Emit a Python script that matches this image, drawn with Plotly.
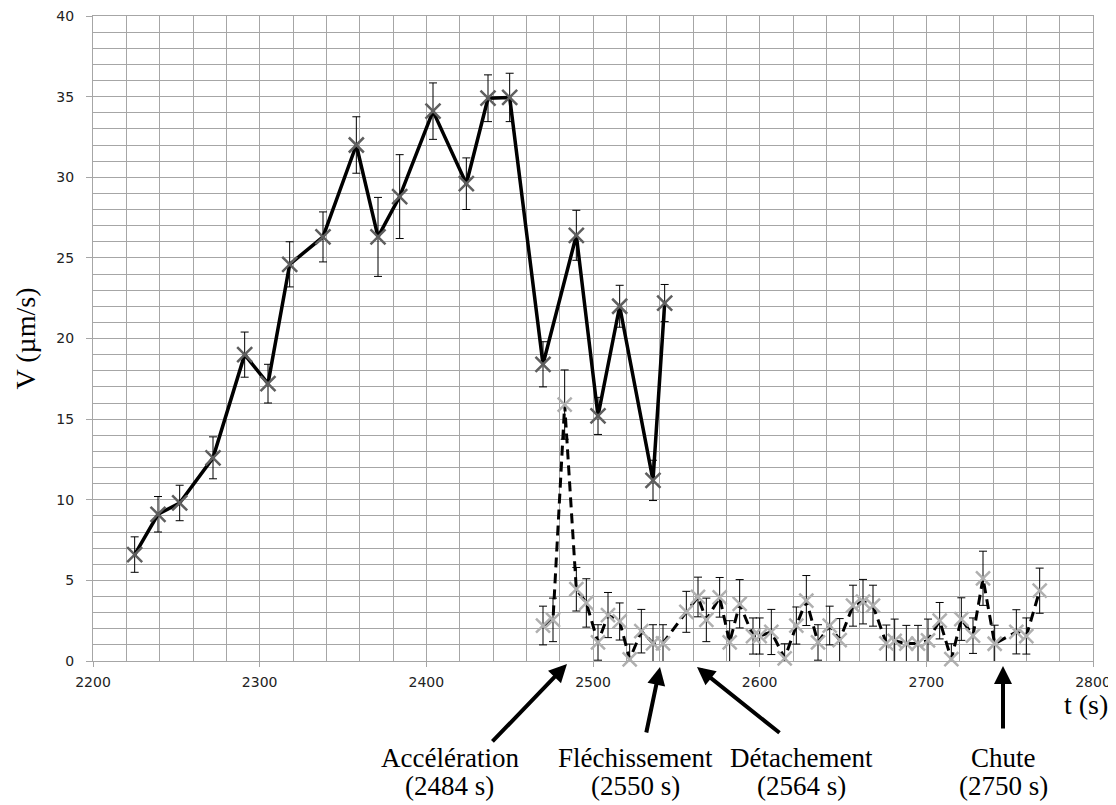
import plotly.graph_objects as go

# Solid series (first measurement)
t_solid = [2225, 2239, 2252, 2272, 2291, 2305, 2318, 2338, 2358, 2371, 2384,
           2404, 2424, 2437, 2450, 2470, 2490, 2503, 2516, 2536, 2543]
v_solid = [6.6, 9.1, 9.8, 12.6, 19.0, 17.2, 24.6, 26.3, 32.0, 26.3, 28.8,
           34.1, 29.6, 34.9, 34.95, 18.4, 26.4, 15.2, 22.0, 11.2, 22.2]
e_solid = [1.1, 1.1, 1.1, 1.3, 1.4, 1.2, 1.4, 1.55, 1.75, 2.45, 2.6,
           1.75, 1.6, 1.45, 1.5, 1.4, 1.55, 1.15, 1.3, 1.25, 1.15]

# Dashed series (second measurement)
t_dash = [2470, 2476, 2483, 2490, 2496, 2503, 2509, 2516, 2522, 2529, 2536, 2542,
          2556, 2563, 2568, 2576, 2582, 2588, 2596, 2600, 2607, 2615, 2622, 2628,
          2635, 2642, 2648, 2656, 2662, 2668, 2676, 2681, 2688, 2695, 2701, 2708,
          2715, 2721, 2728, 2734, 2741, 2754, 2760, 2768]
v_dash = [2.2, 2.55, 15.9, 4.45, 3.6, 1.15, 2.85, 2.45, 0.1, 1.85, 1.1, 1.1,
          3.05, 3.97, 2.55, 3.95, 1.15, 3.55, 1.55, 1.55, 1.8, 0.17, 2.2, 3.75,
          1.15, 2.2, 1.3, 3.43, 3.68, 3.43, 1.1, 1.25, 1.08, 1.08, 1.28, 2.5,
          0.12, 2.6, 1.57, 5.13, 1.07, 1.81, 1.55, 4.36]
e_dash = [1.2, 1.35, 2.15, 1.35, 1.5, 1.1, 1.4, 1.15, 0.95, 1.35, 1.15, 1.15,
          1.27, 1.23, 1.35, 1.23, 1.35, 1.5, 1.12, 1.12, 1.4, 0.9, 1.15, 1.55,
          1.1, 1.2, 1.33, 1.27, 1.38, 1.27, 1.13, 1.35, 1.13, 1.13, 1.32, 1.13,
          0.95, 1.32, 1.1, 1.68, 1.15, 1.37, 1.12, 1.4]

# Event annotations
event_names = ["Accélération", "Fléchissement", "Détachement", "Chute"]
event_times = [2484, 2550, 2564, 2750]

fig = go.Figure()

fig.add_trace(go.Scatter(
    x=t_dash, y=v_dash, mode="lines+markers",
    line=dict(color="black", width=3, dash="10px,6px"),
    marker=dict(symbol="x-thin-open", size=14, color="#b0b0b0",
                line=dict(color="#b0b0b0", width=2.5)),
    error_y=dict(type="data", array=e_dash, color="black", thickness=1, width=4),
    cliponaxis=False, showlegend=False))

fig.add_trace(go.Scatter(
    x=t_solid, y=v_solid, mode="lines+markers",
    line=dict(color="black", width=3.5),
    marker=dict(symbol="x-thin-open", size=15, color="#5f5f5f",
                line=dict(color="#5f5f5f", width=2.5)),
    error_y=dict(type="data", array=e_solid, color="black", thickness=1, width=4),
    cliponaxis=False, showlegend=False))

grid = "#a6a6a6"
fig.update_xaxes(range=[2200, 2800], dtick=100, tick0=2200,
                 showgrid=True, gridcolor=grid, gridwidth=1,
                 minor=dict(dtick=20, showgrid=True, gridcolor=grid, gridwidth=1),
                 showline=True, linecolor=grid, linewidth=1, mirror=True,
                 ticks="outside", ticklen=5, tickcolor=grid,
                 tickfont=dict(family="DejaVu Sans", size=14, color="#222"),
                 zeroline=False, ticklabelstandoff=3, ticklabeloverflow="allow",
                 automargin=False)
fig.update_yaxes(range=[0, 40], dtick=5, tick0=0,
                 showgrid=True, gridcolor=grid, gridwidth=1,
                 minor=dict(dtick=1, showgrid=True, gridcolor=grid, gridwidth=1),
                 showline=True, linecolor=grid, linewidth=1, mirror=True,
                 ticks="outside", ticklen=6, tickcolor=grid,
                 tickfont=dict(family="DejaVu Sans", size=14, color="#222"),
                 zeroline=False, ticklabelstandoff=9, ticklabeloverflow="allow",
                 automargin=False)

serif = dict(family="Liberation Serif", size=28, color="black")
serif_bottom = dict(family="Liberation Serif", size=27, color="black")

# Arrow geometry: head position (x in data, y in paper) and tail pixel offsets
arrow_head_x = [2484.4, 2540.2, 2562.4, 2746]
arrow_head_y = [-0.0046, -0.0093, -0.0093, -0.0077]
arrow_ax = [-76, -14, 84, 0]
arrow_ay = [79, 67, 67, 64]
text_x = [2414, 2525.5, 2625, 2746]
line1_y = -0.150
line2_y = -0.194

annotations = []
for name, t, hx, hy, ax, ay, tx in zip(event_names, event_times, arrow_head_x,
                                         arrow_head_y, arrow_ax, arrow_ay, text_x):
    annotations.append(dict(x=hx, y=hy, xref="x", yref="paper", ax=ax, ay=ay,
                            axref="pixel", ayref="pixel", showarrow=True,
                            arrowhead=2, arrowsize=0.9, arrowwidth=4,
                            arrowcolor="black", text=""))
    annotations.append(dict(x=tx, y=line1_y, xref="x", yref="paper",
                            text=name, showarrow=False, font=serif_bottom,
                            xanchor="center", yanchor="middle"))
    annotations.append(dict(x=tx, y=line2_y, xref="x", yref="paper",
                            text=f"({t} s)", showarrow=False, font=serif_bottom,
                            xanchor="center", yanchor="middle"))

annotations.append(dict(x=0.993, y=-0.068, xref="paper", yref="paper",
                        text="t (s)", showarrow=False, font=serif,
                        xanchor="center", yanchor="middle"))
annotations.append(dict(x=-0.068, y=0.5, xref="paper", yref="paper",
                        text="V (µm/s)", showarrow=False, font=serif,
                        textangle=-90, xanchor="center", yanchor="middle"))

fig.update_layout(
    width=1108, height=797,
    margin=dict(l=85, r=23, t=8, b=144),
    plot_bgcolor="white", paper_bgcolor="white",
    annotations=annotations,
)

fig.write_html("out.html")
